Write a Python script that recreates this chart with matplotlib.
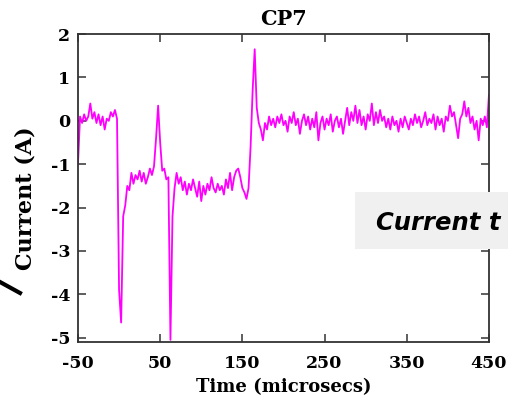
import numpy as np
import matplotlib
matplotlib.use('Agg')
import matplotlib.pyplot as plt
from matplotlib.patches import Rectangle
from matplotlib.lines import Line2D

# time axis (microsecs), sampled every 2.5 us
time_us = np.arange(-50, 452.5, 2.5)

# current (A)
cur_pre = [-1.0, 0.1, -0.05, 0.15, 0.0, 0.1, 0.4, 0.05, 0.2, -0.05,
           0.15, -0.1, 0.1, -0.2, 0.05, 0.0, 0.2, 0.1, 0.25, 0.05]
cur_pulse = [-3.9, -4.65, -2.2, -1.95, -1.5, -1.6, -1.2, -1.45, -1.25, -1.35,
             -1.15, -1.4, -1.2, -1.45, -1.3, -1.1, -1.25, -1.05, -0.4, 0.35,
             -0.5, -1.15, -1.1, -1.35, -1.3, -5.05, -2.2]
cur_plateau = [-1.55, -1.2, -1.45, -1.3, -1.6, -1.4, -1.7, -1.45, -1.6, -1.35,
               -1.55, -1.75, -1.4, -1.85, -1.5, -1.7, -1.45, -1.6, -1.3, -1.55,
               -1.65, -1.45, -1.6, -1.5, -1.7, -1.35, -1.55, -1.2, -1.6, -1.3,
               -1.15, -1.1, -1.3, -1.55, -1.65, -1.8, -1.55, -0.6, 0.7, 1.65,
               0.3, -0.05, -0.2, -0.45]
cur_post = [-0.05, -0.2, 0.1, -0.1, 0.05, -0.15, 0.1, -0.05, 0.15, -0.1,
            0.0, -0.25, 0.1, -0.05, 0.2, -0.1, 0.05, -0.3, 0.0, 0.15,
            -0.1, 0.1, -0.2, 0.05, -0.15, 0.2, -0.45, -0.05, 0.1, -0.2,
            0.05, -0.1, 0.15, -0.25, 0.0, 0.1, -0.15, 0.05, -0.3, 0.0,
            0.3, -0.1, 0.2, 0.0, 0.35, -0.05, 0.25, -0.1, 0.1, -0.2,
            0.15, 0.0, 0.4, -0.1, 0.2, -0.05, 0.25, 0.0, 0.1, -0.15,
            0.05, -0.2, 0.1, -0.1, 0.0, -0.25, 0.05, -0.15, 0.1, -0.05,
            -0.2, 0.05, -0.1, 0.15, -0.05, 0.1, -0.15, 0.0, 0.2, -0.1,
            0.05, -0.05, 0.15, -0.2, 0.1, -0.1, 0.05, -0.25, 0.1, 0.0,
            0.35, 0.1, 0.2, -0.1, -0.4, 0.05, 0.15, 0.45, 0.1, 0.3,
            -0.05, 0.1, -0.2, 0.0, -0.45, 0.05, -0.1, 0.1, -0.15, 0.6]
current = cur_pre + cur_pulse + cur_plateau + cur_post

xticks = [-50, 50, 150, 250, 350, 450]
yticks = [-5, -4, -3, -2, -1, 0, 1, 2]

fig = plt.figure(figsize=(5.08, 4.01), dpi=100)
ax = fig.add_axes([0.1535, 0.147, 0.809, 0.768])
ax.plot(time_us, current, color='#ff00ff', linewidth=1.3)

ax.set_xlim(-50, 450)
ax.set_ylim(-5.1, 2)
ax.set_xticks(xticks)
ax.set_yticks(yticks)

serif = {'family': 'DejaVu Serif', 'weight': 'bold'}
ax.set_xticklabels([str(v) for v in xticks], fontdict=serif, fontsize=12.5)
ax.set_yticklabels([str(v) for v in yticks], fontdict=serif, fontsize=12.5)
ax.tick_params(direction='in', length=6, width=1.1, color='#333333',
               top=True, right=True)
ax.tick_params(axis='x', pad=9)
ax.tick_params(axis='y', pad=5.5)
for s in ax.spines.values():
    s.set_color('#333333')
    s.set_linewidth(1.3)

ax.set_title('CP7', fontdict=serif, fontsize=15, pad=6.5)
ax.set_xlabel('Time (microsecs)', fontdict=serif, fontsize=13)
ax.xaxis.set_label_coords(0.5, -0.117)
ax.set_ylabel('Current (A)', fontdict=serif, fontsize=16)
ax.yaxis.set_label_coords(-0.1, 0.4675)

# slide overlay pieces
fig.patches.append(Rectangle((355 / 508, 1 - 249 / 401), 160 / 508, 57 / 401,
                             transform=fig.transFigure, facecolor='#f0f0f0',
                             edgecolor='none', zorder=5))
fig.text(376 / 508, 1 - 230 / 401, 'Current t', family='DejaVu Sans',
         style='italic', weight='bold', fontsize=17.5, color='black',
         zorder=6)
fig.lines.append(Line2D([0, 20 / 508], [1 - 282 / 401, 1 - 293 / 401],
                        transform=fig.transFigure, color='black',
                        linewidth=3, zorder=6))

plt.savefig('out.png', dpi=100)
